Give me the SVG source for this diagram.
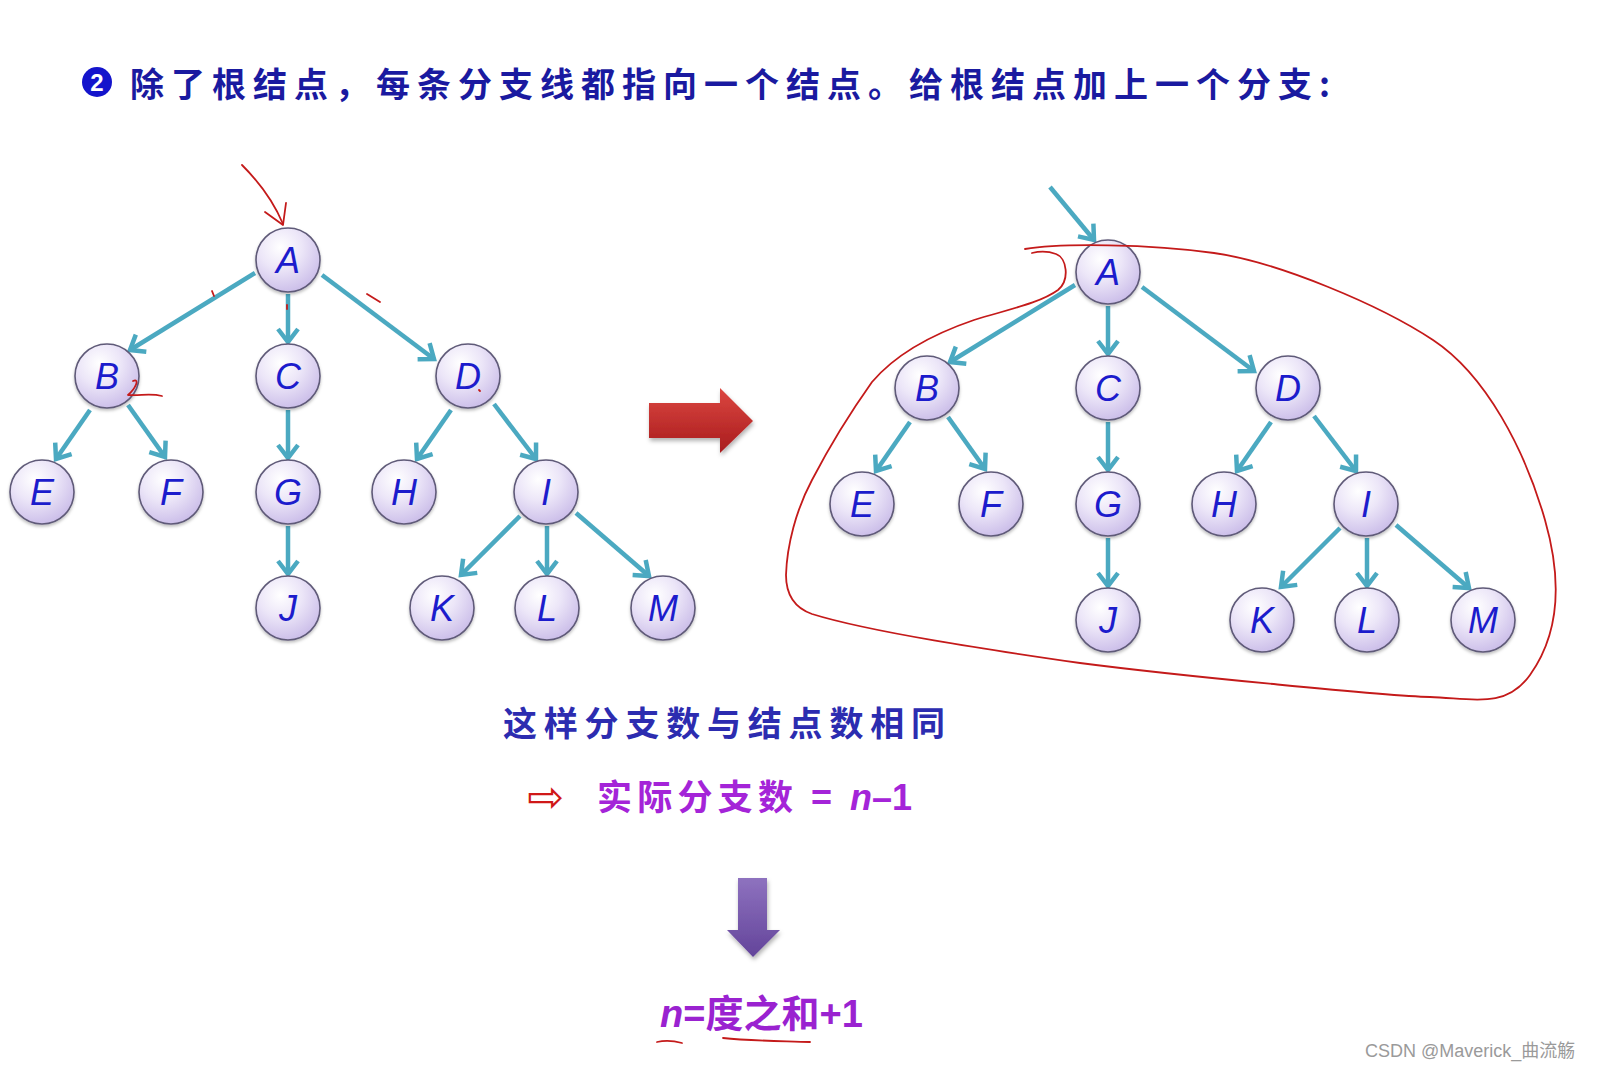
<svg xmlns="http://www.w3.org/2000/svg" width="1599" height="1069" viewBox="0 0 1599 1069">
<defs>
<style>
.nd circle{fill:url(#ng);stroke:#5f5a78;stroke-width:1.6;filter:url(#ns)}
.nd text{font-family:"Liberation Sans",Arial,sans-serif;font-style:italic;font-size:36px;fill:#1c1ccc;text-anchor:middle}
.ed line{stroke:#4ba9c1;stroke-width:4.5;marker-end:url(#ah)}
.cn{font-family:"Noto Sans CJK SC",sans-serif;font-weight:bold}
.ink{fill:none;stroke:#c41a1a;stroke-width:1.8;stroke-linecap:round;stroke-linejoin:round}
</style>
<radialGradient id="ng" cx="0.38" cy="0.3" r="0.75">
<stop offset="0" stop-color="#ffffff"/>
<stop offset="0.45" stop-color="#ece6f8"/>
<stop offset="1" stop-color="#c9bbe8"/>
</radialGradient>
<linearGradient id="rg" x1="0" y1="0" x2="0" y2="1">
<stop offset="0" stop-color="#dc4640"/>
<stop offset="1" stop-color="#a81c1e"/>
</linearGradient>
<linearGradient id="pg" x1="0" y1="0" x2="0" y2="1">
<stop offset="0" stop-color="#8e72bf"/>
<stop offset="1" stop-color="#63449a"/>
</linearGradient>
<filter id="ns" x="-30%" y="-30%" width="160%" height="170%">
<feDropShadow dx="0" dy="2" stdDeviation="1.8" flood-color="#000" flood-opacity="0.25"/>
</filter>
<filter id="as" x="-20%" y="-20%" width="140%" height="150%">
<feDropShadow dx="1" dy="3" stdDeviation="2" flood-color="#000" flood-opacity="0.3"/>
</filter>
<marker id="ah" viewBox="-18 -14 22 28" markerWidth="22" markerHeight="28" refX="0" refY="0" orient="auto" markerUnits="userSpaceOnUse">
<path d="M-13,-10 L0,0 L-13,10" fill="none" stroke="#4ba9c1" stroke-width="4.5"/>
</marker>
</defs>
<rect width="1599" height="1069" fill="#ffffff"/>

<g id="title">
<circle cx="97" cy="82" r="15" fill="#1414cc"/>
<text x="97" y="91" font-family="Liberation Sans,sans-serif" font-weight="bold" font-size="24" fill="#ffffff" text-anchor="middle">2</text>
<text class="cn" x="130" y="97" font-size="34" fill="#1a1aa0" textLength="1200" lengthAdjust="spacing">除了根结点，每条分支线都指向一个结点。给根结点加上一个分支:</text>
</g>

<g id="connectors">
<g class="ed">
<line x1="255" y1="273" x2="130" y2="350"/>
<line x1="288" y1="294" x2="288" y2="342"/>
<line x1="322" y1="275" x2="434" y2="359"/>
<line x1="90" y1="410" x2="56" y2="459"/>
<line x1="128" y1="405" x2="165" y2="457"/>
<line x1="288" y1="410" x2="288" y2="458"/>
<line x1="451" y1="410" x2="417" y2="459"/>
<line x1="494" y1="404" x2="536" y2="459"/>
<line x1="288" y1="526" x2="288" y2="574"/>
<line x1="520" y1="516" x2="461" y2="575"/>
<line x1="547" y1="526" x2="547" y2="574"/>
<line x1="576" y1="513" x2="649" y2="576"/>
</g>
<g class="ed">
<line x1="1050" y1="187" x2="1094" y2="240"/>
<line x1="1075" y1="285" x2="950" y2="362"/>
<line x1="1108" y1="306" x2="1108" y2="354"/>
<line x1="1142" y1="287" x2="1254" y2="371"/>
<line x1="910" y1="422" x2="876" y2="471"/>
<line x1="948" y1="417" x2="985" y2="469"/>
<line x1="1108" y1="422" x2="1108" y2="470"/>
<line x1="1271" y1="422" x2="1237" y2="471"/>
<line x1="1314" y1="416" x2="1356" y2="471"/>
<line x1="1108" y1="538" x2="1108" y2="586"/>
<line x1="1340" y1="528" x2="1281" y2="587"/>
<line x1="1367" y1="538" x2="1367" y2="586"/>
<line x1="1396" y1="525" x2="1469" y2="588"/>
</g>
</g>

<g id="nA"  class="nd"><circle cx="288" cy="260" r="32"/><text x="288" y="273">A</text></g>
<g id="nB"  class="nd"><circle cx="107" cy="376" r="32"/><text x="107" y="389">B</text></g>
<g id="nC"  class="nd"><circle cx="288" cy="376" r="32"/><text x="288" y="389">C</text></g>
<g id="nD"  class="nd"><circle cx="468" cy="376" r="32"/><text x="468" y="389">D</text></g>
<g id="nE"  class="nd"><circle cx="42" cy="492" r="32"/><text x="42" y="505">E</text></g>
<g id="nF"  class="nd"><circle cx="171" cy="492" r="32"/><text x="171" y="505">F</text></g>
<g id="nG"  class="nd"><circle cx="288" cy="492" r="32"/><text x="288" y="505">G</text></g>
<g id="nH"  class="nd"><circle cx="404" cy="492" r="32"/><text x="404" y="505">H</text></g>
<g id="nI"  class="nd"><circle cx="546" cy="492" r="32"/><text x="546" y="505">I</text></g>
<g id="nJ"  class="nd"><circle cx="288" cy="608" r="32"/><text x="288" y="621">J</text></g>
<g id="nK"  class="nd"><circle cx="442" cy="608" r="32"/><text x="442" y="621">K</text></g>
<g id="nL"  class="nd"><circle cx="547" cy="608" r="32"/><text x="547" y="621">L</text></g>
<g id="nM"  class="nd"><circle cx="663" cy="608" r="32"/><text x="663" y="621">M</text></g>

<g id="rA" class="nd"><circle cx="1108" cy="272" r="32"/><text x="1108" y="285">A</text></g>
<g id="rB" class="nd"><circle cx="927" cy="388" r="32"/><text x="927" y="401">B</text></g>
<g id="rC" class="nd"><circle cx="1108" cy="388" r="32"/><text x="1108" y="401">C</text></g>
<g id="rD" class="nd"><circle cx="1288" cy="388" r="32"/><text x="1288" y="401">D</text></g>
<g id="rE" class="nd"><circle cx="862" cy="504" r="32"/><text x="862" y="517">E</text></g>
<g id="rF" class="nd"><circle cx="991" cy="504" r="32"/><text x="991" y="517">F</text></g>
<g id="rG" class="nd"><circle cx="1108" cy="504" r="32"/><text x="1108" y="517">G</text></g>
<g id="rH" class="nd"><circle cx="1224" cy="504" r="32"/><text x="1224" y="517">H</text></g>
<g id="rI" class="nd"><circle cx="1366" cy="504" r="32"/><text x="1366" y="517">I</text></g>
<g id="rJ" class="nd"><circle cx="1108" cy="620" r="32"/><text x="1108" y="633">J</text></g>
<g id="rK" class="nd"><circle cx="1262" cy="620" r="32"/><text x="1262" y="633">K</text></g>
<g id="rL" class="nd"><circle cx="1367" cy="620" r="32"/><text x="1367" y="633">L</text></g>
<g id="rM" class="nd"><circle cx="1483" cy="620" r="32"/><text x="1483" y="633">M</text></g>

<g id="bigArrow">
<path d="M649,403 H720 V388 L753,421 L720,453 V438 H649 Z" fill="url(#rg)" filter="url(#as)"/>
</g>

<g id="ink">
<path class="ink" d="M242,165 C255,178 272,198 283,224"/>
<path class="ink" d="M265,212 L283,225 L286,203"/>
<path class="ink" d="M212,291 L214,296"/>
<path class="ink" d="M287,305 L287,309"/>
<path class="ink" d="M367,294 L380,302"/>
<path class="ink" d="M133,381 C140,378 136,388 128,395 C140,396 150,393 162,396"/>
<path class="ink" d="M479,390 L480,391"/>
<path class="ink" d="M1025,249 C1060,243 1150,244 1214,253 S1380,305 1433,340 S1525,450 1545,520 S1555,640 1530,675 S1470,698 1430,697 S1180,676 1080,663 C990,650 870,632 812,614 C795,608 786,595 786,575 C787,545 796,510 812,480 C825,455 845,420 872,382 C895,355 930,335 974,320 C1010,309 1040,303 1058,290 C1070,280 1067,258 1056,254 C1048,251 1040,251 1032,253" stroke-width="1.6"/>
</g>

<g id="text1">
<text class="cn" x="503" y="736" font-size="34" fill="#2c2cb0" textLength="442" lengthAdjust="spacing">这样分支数与结点数相同</text>
</g>
<g id="text2">
<text x="527" y="812" font-family="DejaVu Sans,sans-serif" font-size="44" fill="#d01818">⇨</text>
<text class="cn" x="597" y="810" font-size="35" fill="#a424d8" textLength="196" lengthAdjust="spacing">实际分支数</text>
<text x="811" y="810" font-family="Liberation Sans,sans-serif" font-weight="bold" font-size="36" fill="#a424d8">=</text>
<text x="850" y="810" font-family="Liberation Sans,sans-serif" font-weight="bold" font-size="36" fill="#a424d8"><tspan font-style="italic">n</tspan>–1</text>
</g>

<g id="downArrow">
<path d="M738,878 H767 V930 H780 L753,957 L727,930 H738 Z" fill="url(#pg)" filter="url(#as)"/>
</g>

<g id="formula">
<text x="660" y="1027" font-size="38" fill="#9a22d0"><tspan font-family="Liberation Sans,sans-serif" font-weight="bold" font-style="italic">n</tspan><tspan font-family="Liberation Sans,sans-serif" font-weight="bold">=</tspan><tspan class="cn">度之和</tspan><tspan font-family="Liberation Sans,sans-serif" font-weight="bold">+1</tspan></text>
<path class="ink" d="M657,1042 C665,1040 675,1041 682,1043"/>
<path class="ink" d="M723,1038 C750,1041 785,1041 810,1042"/>
</g>

<text id="watermark" x="1365" y="1057" font-family="Liberation Sans,Noto Sans CJK SC,sans-serif" font-size="18" fill="#9a9a9a">CSDN @Maverick_曲流觞</text>
</svg>
